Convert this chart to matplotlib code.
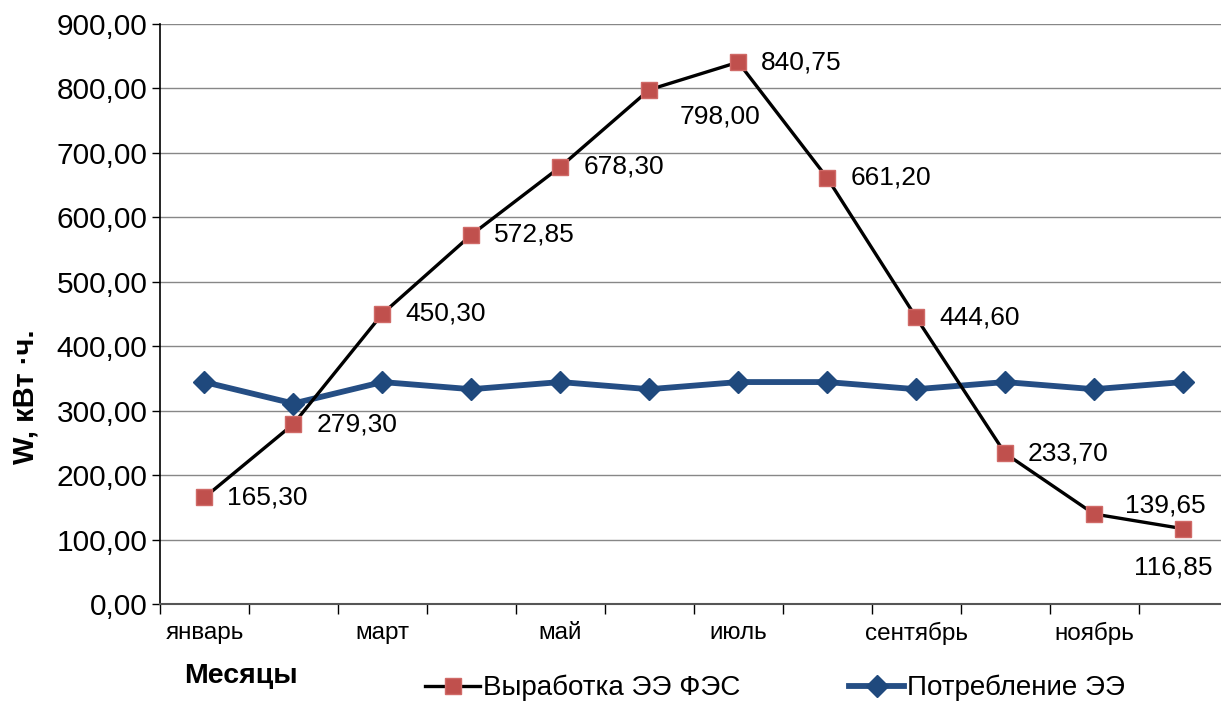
import matplotlib
matplotlib.use("Agg")
import matplotlib.pyplot as plt
from matplotlib.ticker import FuncFormatter, FixedLocator

plt.rcParams['font.family'] = ['Liberation Sans', 'DejaVu Sans']

months = ['январь', 'февраль', 'март', 'апрель', 'май', 'июнь',
          'июль', 'август', 'сентябрь', 'октябрь', 'ноябрь', 'декабрь']
generation = [165.30, 279.30, 450.30, 572.85, 678.30, 798.00,
              840.75, 661.20, 444.60, 233.70, 139.65, 116.85]
consumption = [344.4, 311.1, 344.4, 333.3, 344.4, 333.3,
               344.4, 344.4, 333.3, 344.4, 333.3, 344.4]

# label offsets in pixels (dx, dy, horizontal alignment)
label_offsets = [(23, 0, 'left')] * 12
label_offsets[5] = (30, -27, 'left')
label_offsets[10] = (31, 9, 'left')
label_offsets[11] = (-10, -39, 'center')

fig = plt.figure(figsize=(12.21, 7.01), dpi=100)
ax = fig.add_axes([160 / 1221, 97 / 701, 1067.5 / 1221, 580 / 701])

x = list(range(len(months)))

ax.plot(x, consumption, color='#254E84', lw=4.2, marker='D', ms=11.5,
        mfc='#1F497D', mec='#1F497D', label='Потребление ЭЭ', zorder=3)
ax.plot(x, generation, color='black', lw=2.4, marker='s', ms=11,
        mfc='#C0504D', mec='#D06A67', mew=1, label='Выработка ЭЭ ФЭС', zorder=4)

for i, v in enumerate(generation):
    dx, dy, ha = label_offsets[i]
    ax.annotate(f'{v:.2f}'.replace('.', ','), (i, v), xytext=(dx, dy),
                textcoords='offset pixels', ha=ha, va='center', fontsize=19)

ax.set_xlim(-0.5, 11.5)
ax.set_ylim(0, 900)
ax.set_yticks(range(0, 901, 100))
ax.yaxis.set_major_formatter(FuncFormatter(lambda v, p: f'{v:.2f}'.replace('.', ',')))
ax.tick_params(axis='y', direction='out', length=6, width=1, labelsize=21.5, pad=3)

ax.set_xticks(x[::2])
ax.set_xticklabels(months[::2])
ax.xaxis.set_minor_locator(FixedLocator([k - 0.5 for k in range(13)]))
ax.tick_params(axis='x', which='major', length=0, labelsize=17.5, pad=13)
ax.tick_params(axis='x', which='minor', direction='out', length=7, width=1)

ax.grid(axis='y', color='#878787', lw=1)
ax.set_axisbelow(True)
for s in ['top', 'right']:
    ax.spines[s].set_visible(False)
ax.spines['left'].set_linewidth(1.2)
ax.spines['bottom'].set_linewidth(1.5)
ax.spines['bottom'].set_color('#555555')

fig.text(25 / 1221, 1 - 397 / 701, 'W, кВт ·ч.', rotation=90, ha='center',
         va='center', fontsize=21, fontweight='bold')
fig.text(241 / 1221, 1 - 676 / 701, 'Месяцы', ha='center', va='center',
         fontsize=20.5, fontweight='bold')

h, l = ax.get_legend_handles_labels()
fig.legend(h[::-1], l[::-1], loc='center', bbox_to_anchor=(775 / 1221, 1 - 688 / 701),
           ncol=2, frameon=False, fontsize=20, handlelength=2.0, handletextpad=0.1,
           columnspacing=3.9)

fig.savefig('out.png', dpi=100)
